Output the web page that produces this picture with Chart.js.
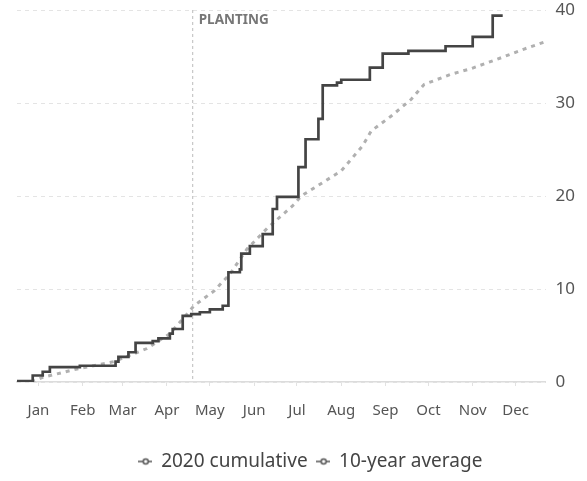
<!DOCTYPE html>
<html lang="en">
<head>
    <meta charset="UTF-8">
    <title>2020 cumulative vs 10-year average</title>
    <script src="https://cdn.jsdelivr.net/npm/chart.js"></script>
    <style>
        body {
            margin: 0;
            background: #fff;
        }
        .chart-container {
            width: 587px;
            height: 481px;
            position: relative;
        }
    </style>
</head>
<body>
    <div class="chart-container">
        <canvas id="rainChart"></canvas>
    </div>

    <script>
        // month labels sit at mid-month (day of year)
        const monthLabels = ['Jan', 'Feb', 'Mar', 'Apr', 'May', 'Jun', 'Jul', 'Aug', 'Sep', 'Oct', 'Nov', 'Dec'];
        const monthTickDays = [15, 46, 74, 105, 135, 166, 196, 227, 258, 288, 319, 349];
        const yTicks = [0, 10, 20, 30, 40];

        // 2020 cumulative (step line: jumps at the given day)
        const cumDays = [0, 11, 18, 23, 44, 69, 71, 78, 83, 95, 99, 107, 109, 116, 122, 128, 135, 144, 148, 156, 157, 163, 172, 179, 182, 197, 202, 211, 214, 224, 227, 247, 256, 274, 300, 319, 333, 340];
        const cumValues = [0.1, 0.7, 1.1, 1.6, 1.75, 2.2, 2.7, 3.2, 4.2, 4.4, 4.7, 5.2, 5.7, 7.1, 7.3, 7.5, 7.8, 8.2, 11.8, 12.1, 13.8, 14.6, 15.9, 18.6, 19.9, 23.1, 26.1, 28.3, 31.9, 32.2, 32.5, 33.8, 35.3, 35.6, 36.1, 37.1, 39.4, 39.4];

        // 10-year average
        const avgDays = [10, 18, 42, 68, 91, 107, 124, 138, 149, 161, 175, 194, 199, 227, 242, 248, 262, 276, 285, 304, 318, 336, 355, 370];
        const avgValues = [0, 0.5, 1.4, 2.2, 3.6, 5.2, 8.2, 9.8, 11.6, 14.3, 16.5, 19.1, 20, 22.7, 25.4, 27, 28.6, 30.4, 32, 33.1, 33.7, 34.7, 35.8, 36.6];

        const plantingDay = 123;
        const plantingLabel = 'PLANTING';

        const FONT = "'Noto Sans', sans-serif";

        // little "-o-" marker for the legend
        function makeMarker(color) {
            const c = document.createElement('canvas');
            c.width = 14;
            c.height = 10;
            const g = c.getContext('2d');
            g.strokeStyle = color;
            g.lineWidth = 1.5;
            g.beginPath();
            g.moveTo(0, 5);
            g.lineTo(14, 5);
            g.stroke();
            g.fillStyle = '#fff';
            g.beginPath();
            g.arc(8, 5, 2.5, 0, Math.PI * 2);
            g.fill();
            g.stroke();
            return c;
        }
        const marker = makeMarker('#555');

        const plantingLine = {
            id: 'plantingLine',
            afterUpdate(chart) {
                // legend in the original sits a little right of centre
                chart.legend.left += 9;
                chart.legend.right += 9;
            },
            afterDatasetsDraw(chart) {
                const { ctx, chartArea, scales } = chart;
                const x = scales.x.getPixelForValue(plantingDay);
                ctx.save();
                ctx.strokeStyle = '#bbb';
                ctx.lineWidth = 1;
                ctx.setLineDash([3, 3]);
                ctx.beginPath();
                ctx.moveTo(x, chartArea.top);
                ctx.lineTo(x, chartArea.bottom);
                ctx.stroke();
                ctx.setLineDash([]);
                ctx.fillStyle = '#777';
                ctx.font = "bold 13.5px " + FONT;
                ctx.textBaseline = 'middle';
                ctx.fillText(plantingLabel, x + 6, chartArea.top + 10);
                ctx.restore();
            }
        };

        const ctx = document.getElementById('rainChart').getContext('2d');
        const rainChart = new Chart(ctx, {
            type: 'line',
            data: {
                datasets: [{
                    label: '2020 cumulative',
                    data: cumDays.map((d, i) => ({ x: d, y: cumValues[i] })),
                    borderColor: '#444',
                    borderWidth: 2.7,
                    stepped: true,
                    pointRadius: 0,
                    fill: false
                }, {
                    label: '10-year average',
                    data: avgDays.map((d, i) => ({ x: d, y: avgValues[i] })),
                    borderColor: '#b0b0b0',
                    borderWidth: 3,
                    borderDash: [4, 5],
                    pointRadius: 0,
                    fill: false
                }]
            },
            options: {
                responsive: true,
                maintainAspectRatio: false,
                animation: false,
                layout: {
                    padding: { left: 17, right: 2, top: 0, bottom: 0 }
                },
                plugins: {
                    tooltip: { enabled: false },
                    legend: {
                        position: 'bottom',
                        labels: {
                            usePointStyle: true,
                            pointStyle: marker,
                            pointStyleWidth: 14,
                            color: '#444',
                            font: { family: FONT, size: 19 },
                            padding: 8,
                            generateLabels(chart) {
                                return chart.data.datasets.map((ds, i) => ({
                                    text: ds.label,
                                    pointStyle: marker,
                                    fillStyle: '#fff',
                                    strokeStyle: '#555',
                                    lineWidth: 0,
                                    fontColor: '#444',
                                    datasetIndex: i,
                                    hidden: false
                                }));
                            }
                        }
                    }
                },
                scales: {
                    x: {
                        type: 'linear',
                        min: 0,
                        max: 370,
                        afterBuildTicks(scale) {
                            scale.ticks = monthTickDays.map(v => ({ value: v }));
                        },
                        afterFit(scale) {
                            scale.height += 8;
                        },
                        ticks: {
                            color: '#555',
                            font: { family: FONT, size: 15 },
                            padding: 16,
                            maxRotation: 0,
                            autoSkip: false,
                            callback(value, index) {
                                return monthLabels[index];
                            }
                        },
                        grid: {
                            drawOnChartArea: false,
                            drawTicks: true,
                            tickLength: 4,
                            color: '#e2e2e2'
                        },
                        border: { display: true, color: '#dcdcdc', width: 1.5 }
                    },
                    y: {
                        position: 'right',
                        min: 0,
                        max: 40,
                        afterBuildTicks(scale) {
                            scale.ticks = yTicks.map(v => ({ value: v }));
                        },
                        afterFit(scale) {
                            scale.paddingTop = 10;
                            scale.paddingBottom = 0;
                        },
                        ticks: {
                            color: '#555',
                            font: { family: FONT, size: 17 },
                            padding: 10
                        },
                        grid: {
                            drawTicks: false,
                            color: '#e4e4e4'
                        },
                        border: { display: false, dash: [4, 4] }
                    }
                }
            },
            plugins: [plantingLine]
        });
    </script>
</body>
</html>
